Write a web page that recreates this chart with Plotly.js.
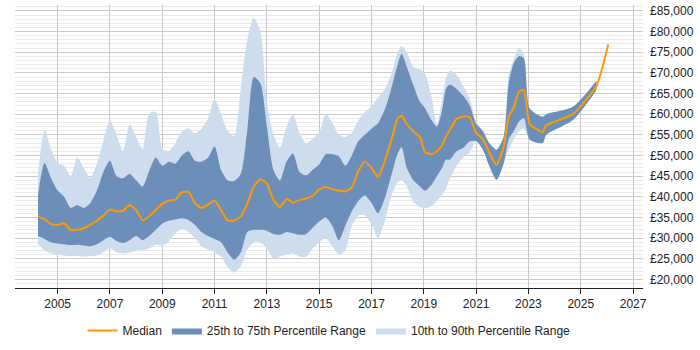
<!DOCTYPE html>
<html>
<head>
<meta charset="utf-8">
<script src="https://cdn.plot.ly/plotly-3.0.1.min.js"></script>
<style>
  html, body { margin: 0; padding: 0; background: #fff; }
  #chart { width: 700px; height: 350px; }
</style>
</head>
<body>
<div id="chart"></div>
<script>
// Sample dates (decimal years) for the salary percentiles
const years = [
  2004.25, 2004.5, 2004.75, 2005.0, 2005.25, 2005.5, 2005.75, 2006.0, 2006.25, 2006.5, 2006.75,
  2007.0, 2007.25, 2007.5, 2007.75, 2008.0, 2008.25, 2008.5, 2008.75, 2009.0, 2009.25, 2009.5, 2009.75,
  2010.0, 2010.25, 2010.5, 2010.75, 2011.0, 2011.25, 2011.5, 2011.75, 2012.0, 2012.25, 2012.5, 2012.75,
  2013.0, 2013.25, 2013.5, 2013.75, 2014.0, 2014.25, 2014.5, 2014.75, 2015.0, 2015.25, 2015.5, 2015.75,
  2016.0, 2016.25, 2016.5, 2016.75, 2017.0, 2017.25, 2017.5, 2017.75, 2018.0, 2018.15, 2018.35, 2018.6,
  2018.85, 2019.05, 2019.3, 2019.5, 2019.7, 2019.85, 2020.0, 2020.25, 2020.5, 2020.75, 2021.0, 2021.25,
  2021.5, 2021.78, 2022.05, 2022.25, 2022.45, 2022.65, 2022.83, 2023.05, 2023.55, 2023.68, 2024.7,
  2025.6, 2026.05
];

// 10th percentile
const p10 = [
  28500, 27000, 26300, 26000, 25800, 25600, 25700, 25500, 25600, 25800, 26600,
  27600, 26600, 26300, 26500, 27000, 27000, 27500, 28400, 28200, 29200, 31200, 32200,
  31500, 30000, 28000, 27200, 26600, 25500, 23000, 21600, 23200, 27200, 29000, 29000,
  27500, 25000, 25500, 26000, 26300, 25500, 25500, 27500, 29000, 30000, 28000, 26000,
  27000, 33000, 35500, 35500, 33500, 30000, 34000, 40000, 43500, 44000, 42500, 38800,
  37500, 37200, 37800, 39000, 40500, 42000, 44500, 47500, 49500, 50700, 53500, 51500,
  47500, 44100, 48000, 51500, 54000, 56000, 56500, 53800, 53000, 55000, 58600,
  65800, null
];

// 25th percentile
const p25 = [
  30500, 29800, 29000, 28700, 28500, 28300, 28400, 28200, 28000, 28500, 29500,
  30300, 29300, 28800, 29500, 30500, 29500, 30500, 32000, 33500, 34200, 34500, 34800,
  34400, 33200, 31500, 30500, 29800, 29000, 26500, 24800, 26500, 31500, 32000, 32000,
  31800, 31000, 30800, 31500, 31200, 30800, 31000, 32500, 34000, 35000, 33000, 29500,
  33000, 36500, 39000, 40300, 38500, 36000, 39500, 45000, 50500, 52000, 47000, 44000,
  42500, 41500, 43000, 45000, 47000, 49000, 49000, 51000, 51800, 53400, 53500, 51500,
  47500, 44100, 48000, 54000, 56000, 58300, 59000, 53800, 53000, 55000, 58600,
  65800, null
];

// Median
const median = [
  35200, 34600, 33400, 33200, 33600, 32000, 32000, 32400, 33200, 34200, 35500,
  36900, 36500, 36600, 38000, 36800, 34300, 35300, 36800, 38300, 39100, 39300, 41100,
  41200, 38500, 37300, 38100, 39100, 36700, 34300, 34200, 35200, 38300, 42500, 44200,
  43200, 39300, 37500, 39500, 38600, 39200, 39600, 40200, 41800, 42400, 41800, 41500,
  41300, 42300, 46300, 48500, 47000, 44800, 48500, 53500, 59000, 59600, 57600, 55800,
  54500, 50800, 50300, 51000, 52500, 54600, 56200, 58800, 59400, 59300, 55500, 54000,
  50800, 47700, 52000, 59400, 61800, 65600, 65800, 57600, 55700, 57300, 60000,
  66800, 76900
];

// 75th percentile
const p75 = [
  40500, 48200, 44500, 41500, 40000, 37300, 38000, 37300, 38500, 41500, 46000,
  48700, 45000, 44500, 45500, 44000, 42500, 46300, 49500, 47500, 48500, 48000, 50000,
  51000, 48700, 48500, 49500, 52200, 46500, 44000, 43800, 45500, 56000, 69000, 67500,
  57000, 46500, 44000, 48500, 50500, 46000, 45200, 46500, 47800, 50300, 50300, 49800,
  47500, 50000, 53500, 55000, 56500, 57800, 61000, 66000, 72000, 74600, 71500, 67000,
  63000, 61400, 58500, 57000, 61000, 66200, 67200, 66100, 64500, 62200, 57700, 56000,
  53000, 51400, 54500, 67700, 72500, 74100, 73500, 61400, 59400, 60000, 61800,
  68100, null
];

// 90th percentile
const p90 = [
  45500, 56200, 51500, 48200, 47500, 45000, 49500, 47000, 44500, 48000, 53500,
  58500, 55000, 51000, 57500, 54500, 51500, 60200, 60600, 51800, 51000, 53000, 55800,
  56600, 55400, 56500, 59000, 63700, 60000, 56000, 54600, 66000, 78000, 83300, 80000,
  63000, 55000, 51800, 57000, 60000, 55500, 53000, 54000, 55600, 60000, 58000, 55000,
  54500, 55500, 58500, 60500, 62000, 64000, 66000, 69500, 75000, 76500, 75000, 71500,
  70800, 69700, 64000, 57600, 63500, 68800, 70500, 69500, 67000, 63800, 58200, 56000,
  53000, 51400, 54500, 69500, 73500, 76000, 74300, 61400, 59400, 60000, 61800,
  68100, null
];

const yearTicks = [2005, 2007, 2009, 2011, 2013, 2015, 2017, 2019, 2021, 2023, 2025, 2027];

const LIGHT = 'rgb(205,221,238)';
const DARK = 'rgb(108,143,185)';
const ORANGE = 'rgb(255,153,0)';
const FONT = 'Liberation Sans, Arial, sans-serif';

const band = (y, extra) => Object.assign({
  x: years, y: y, type: 'scatter', mode: 'lines',
  line: { width: 0, shape: 'spline', smoothing: 0.7 },
  hoverinfo: 'skip'
}, extra);

const traces = [
  band(p10, { showlegend: false, name: 'p10' }),
  band(p90, { fill: 'tonexty', fillcolor: LIGHT, name: '10th to 90th Percentile Range', legendrank: 3 }),
  band(p25, { showlegend: false, name: 'p25' }),
  band(p75, { fill: 'tonexty', fillcolor: DARK, name: '25th to 75th Percentile Range', legendrank: 2 }),
  {
    x: years, y: median, type: 'scatter', mode: 'lines', name: 'Median', legendrank: 1,
    line: { color: ORANGE, width: 2, shape: 'spline', smoothing: 0.5 }
  }
];

const layout = {
  width: 700, height: 350,
  margin: { l: 15, r: 57, t: 5, b: 58 },
  paper_bgcolor: '#fff', plot_bgcolor: '#fff',
  font: { family: FONT, size: 12, color: '#222' },
  showlegend: true,
  legend: {
    orientation: 'h', x: 0.5, xanchor: 'center', y: -0.15, yanchor: 'middle',
    font: { family: FONT, size: 12, color: '#222' }, traceorder: 'normal'
  },
  xaxis: {
    range: [2003.37, 2027.38], tickmode: 'array', tickvals: yearTicks,
    ticktext: yearTicks.map(String),
    showgrid: true, gridcolor: '#c8c8c8', gridwidth: 1,
    showline: true, linecolor: '#222', linewidth: 1,
    ticks: 'outside', ticklen: 5, tickcolor: '#222',
    zeroline: false, fixedrange: true
  },
  yaxis: {
    range: [17920, 86430], side: 'right', tickmode: 'linear', tick0: 0, dtick: 5000,
    tickprefix: '£', tickformat: ',d',
    showgrid: true, gridcolor: '#cbcbcb', gridwidth: 1,
    minor: { dtick: 1000, tick0: 0, showgrid: true, gridcolor: '#ebebeb', gridwidth: 1 },
    showline: false, zeroline: false, ticks: '', ticklabelstandoff: 6, fixedrange: true
  }
};

Plotly.newPlot('chart', traces, layout, { displayModeBar: false, staticPlot: true });
</script>
</body>
</html>
